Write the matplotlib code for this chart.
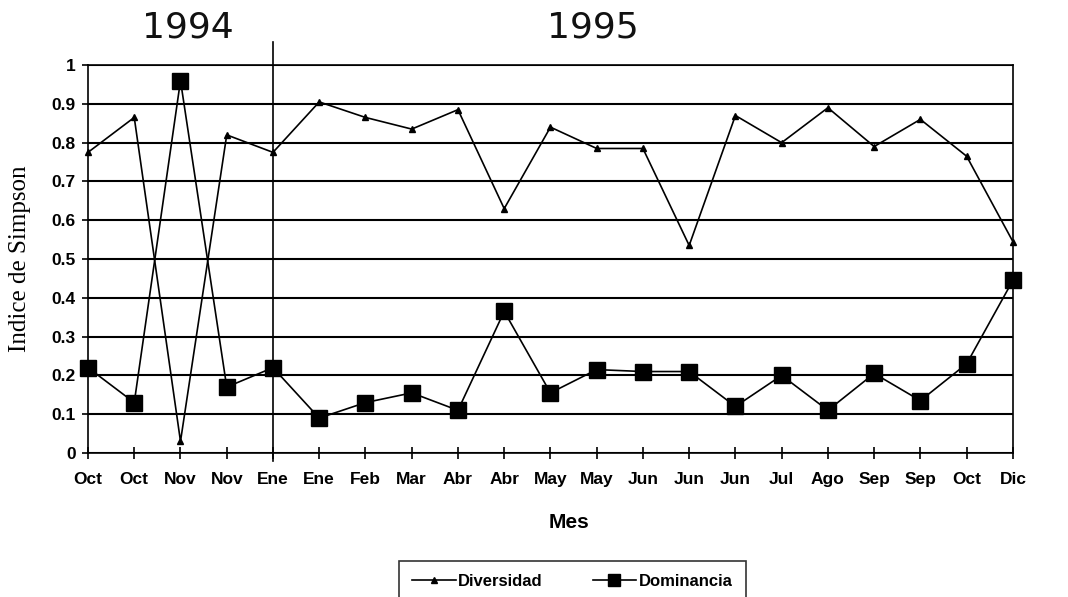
import matplotlib.pyplot as plt
import numpy as np

# monthly samples, Oct 1994 - Dic 1995
meses = ['Oct', 'Oct', 'Nov', 'Nov', 'Ene', 'Ene', 'Feb', 'Mar', 'Abr', 'Abr',
         'May', 'May', 'Jun', 'Jun', 'Jun', 'Jul', 'Ago', 'Sep', 'Sep', 'Oct', 'Dic']
diversidad = [0.775, 0.865, 0.03, 0.82, 0.775, 0.905, 0.865, 0.835, 0.885, 0.63,
              0.84, 0.785, 0.785, 0.535, 0.87, 0.80, 0.89, 0.79, 0.86, 0.765, 0.545]
dominancia = [0.22, 0.13, 0.96, 0.17, 0.22, 0.09, 0.13, 0.155, 0.11, 0.365,
              0.155, 0.215, 0.21, 0.21, 0.12, 0.20, 0.11, 0.205, 0.135, 0.23, 0.445]
inicio_1995 = 4
yticks = np.round(np.arange(0, 1.01, 0.1), 1)

fig = plt.figure(figsize=(10.68, 5.97), dpi=100)
ax = fig.add_axes([0.0824, 0.2412, 0.866, 0.6498])

x = np.arange(len(meses))
ax.plot(x, diversidad, color='black', lw=1.2, marker='^', ms=5, label='Diversidad',
        clip_on=False, zorder=3)
ax.plot(x, dominancia, color='black', lw=1.2, marker='s', ms=11, label='Dominancia',
        clip_on=False, zorder=3)

ax.set_xlim(0, len(meses) - 1)
ax.set_ylim(0, 1)
ax.set_yticks(yticks)
ax.set_yticklabels([f'{v:g}' for v in yticks])
ax.set_xticks(x)
ax.set_xticklabels(meses)
ax.yaxis.grid(True, color='black', lw=1.5)
ax.set_axisbelow(True)
for s in ax.spines.values():
    s.set_color('black')
    s.set_linewidth(1.2)

ax.tick_params(axis='x', direction='inout', length=9, width=1.2, pad=9)
ax.tick_params(axis='y', direction='out', length=4, width=1.2, pad=5)
for lbl in ax.get_xticklabels() + ax.get_yticklabels():
    lbl.set_family('Liberation Sans')
    lbl.set_fontweight('bold')
    lbl.set_fontsize(12.5)

ax.set_xlabel('Mes', family='Liberation Sans', fontweight='bold', fontsize=15)
ax.xaxis.set_label_coords(0.52, -0.155)
ax.set_ylabel('Indice de Simpson', family='Liberation Serif', fontsize=18)
ax.yaxis.set_label_coords(-0.062, 0.5)

# year separator reaching above the plot
ax.plot([inicio_1995, inicio_1995], [-0.02, 1.06], color='black', lw=1.2, clip_on=False)
fig.text(188 / 1068, 1 - 27 / 597, '1994', ha='center', va='center', fontsize=26,
         family='DejaVu Sans', color='#111111')
fig.text(593 / 1068, 1 - 27 / 597, '1995', ha='center', va='center', fontsize=26,
         family='DejaVu Sans', color='#111111')

leg = fig.legend(loc='upper center', bbox_to_anchor=(0.536, 1 - 556 / 597), ncol=2,
                 frameon=True, fancybox=False, edgecolor='black', columnspacing=3.0,
                 handlelength=2.6, handletextpad=0.15, borderpad=0.8, borderaxespad=0.3,
                 markerscale=0.85,
                 prop={'family': 'Liberation Sans', 'size': 12, 'weight': 'bold'})
leg.get_frame().set_linewidth(1.2)

fig.savefig('out.png', dpi=100)
